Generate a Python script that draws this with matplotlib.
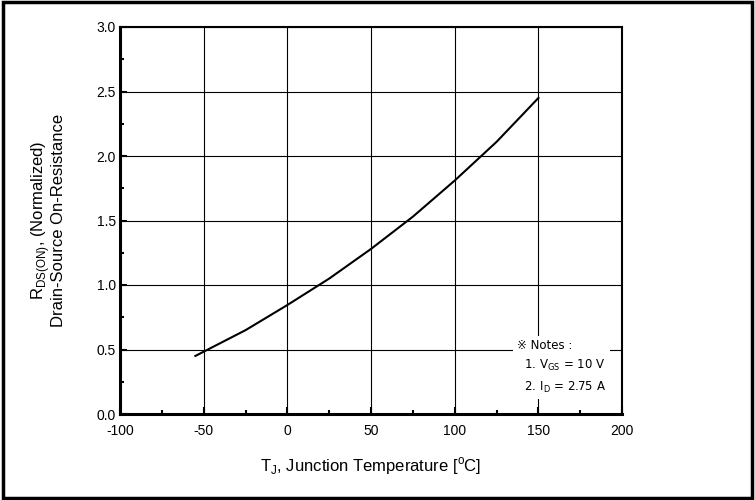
import matplotlib
matplotlib.use("Agg")
import matplotlib.pyplot as plt
from matplotlib.patches import Rectangle
from matplotlib.ticker import MultipleLocator

# data
temps = [-55, -40, -25, 0, 25, 50, 75, 100, 125, 150]
rds_on = [0.45, 0.55, 0.65, 0.845, 1.05, 1.28, 1.53, 1.81, 2.11, 2.45]

x_ticks = [-100, -50, 0, 50, 100, 150, 200]
y_ticks = [0.0, 0.5, 1.0, 1.5, 2.0, 2.5, 3.0]

plt.rcParams["font.family"] = ["Liberation Sans Narrow", "Liberation Sans", "DejaVu Sans"]

fig = plt.figure(figsize=(7.55, 5.0), dpi=100)
ax = fig.add_axes([0.159, 0.172, 0.665, 0.774])

ax.plot(temps, rds_on, color="black", linewidth=1.5)

ax.set_xlim(-100, 200)
ax.set_ylim(0, 3.0)
ax.set_xticks(x_ticks)
ax.set_yticks(y_ticks)
ax.set_xticklabels([str(t) for t in x_ticks])
ax.set_yticklabels([f"{t:.1f}" for t in y_ticks])
ax.xaxis.set_minor_locator(MultipleLocator(25))
ax.yaxis.set_minor_locator(MultipleLocator(0.25))
ax.grid(True, which="major", color="black", linewidth=0.8)
ax.tick_params(which="major", direction="in", length=5, width=1.5, labelsize=10)
ax.tick_params(axis="x", pad=7)
ax.tick_params(axis="y", pad=3)
ax.tick_params(which="minor", direction="in", length=3, width=1.5)
for sp in ax.spines.values():
    sp.set_linewidth(1.5)
ax.spines["left"].set_linewidth(2.2)
ax.spines["bottom"].set_linewidth(2.2)

ax.set_xlabel(r"T$_\mathregular{J}$, Junction Temperature [$^\mathregular{o}$C]", fontsize=12, labelpad=13)
ax.set_ylabel(r"R$_\mathregular{DS(ON)}$, (Normalized)" + "\nDrain-Source On-Resistance",
              fontsize=12, labelpad=22, linespacing=0.95)

notes = ("\u203b Notes :\n"
         r"  1. V$_\mathregular{GS}$ = 10 V" + "\n"
         r"  2. I$_\mathregular{D}$ = 2.75 A")
ax.text(0.79, 0.195, notes, transform=ax.transAxes, fontsize=8.5, va="top", ha="left",
        linespacing=1.6, bbox=dict(facecolor="white", edgecolor="none", pad=3),
        family=["Liberation Sans Narrow", "DejaVu Sans"])

fig.patches.append(Rectangle((0.004, 0.004), 0.992, 0.992, transform=fig.transFigure,
                             fill=False, edgecolor="black", linewidth=2.5))

fig.savefig("out.png", dpi=100)
